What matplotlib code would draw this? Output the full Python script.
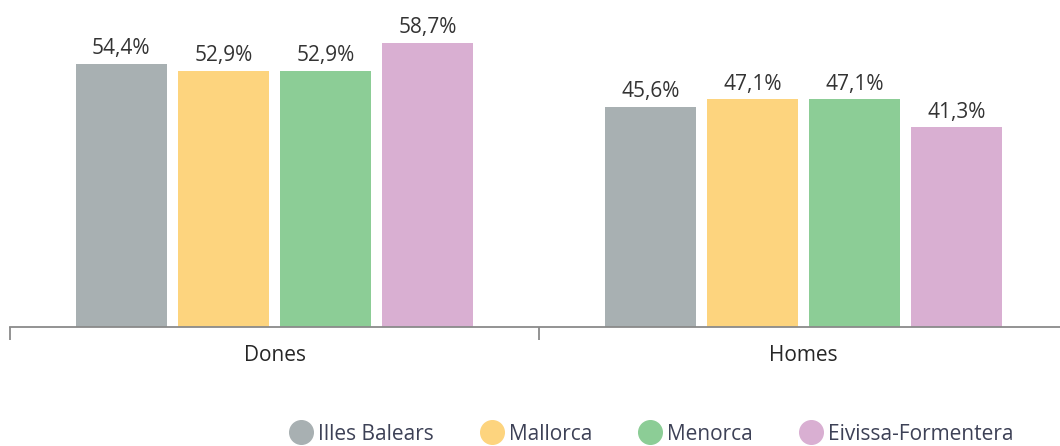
import matplotlib
matplotlib.use("Agg")
import matplotlib.pyplot as plt
from matplotlib.lines import Line2D
import numpy as np

categories = ["Dones", "Homes"]
series = ["Illes Balears", "Mallorca", "Menorca", "Eivissa-Formentera"]
values = {
    "Illes Balears": [54.4, 45.6],
    "Mallorca": [52.9, 47.1],
    "Menorca": [52.9, 47.1],
    "Eivissa-Formentera": [58.7, 41.3],
}
colors = ["#a8b0b2", "#fdd47e", "#8ccd96", "#d9afd2"]

plt.rcParams['font.family'] = ['Open Sans', 'DejaVu Sans']

fig = plt.figure(figsize=(10.6, 4.46), dpi=100)
ax = fig.add_axes([10 / 1060, 119 / 446, 1058 / 1060, 290 / 446])

x = np.arange(len(categories))
width = 0.172
step = 0.193
offsets = (np.arange(len(series)) - 1.5) * step

for i, name in enumerate(series):
    bars = ax.bar(x + offsets[i], values[name], width=width, color=colors[i])
    for b, v in zip(bars, values[name]):
        ax.text(b.get_x() + b.get_width() / 2, v + 1.0, f"{v:.1f}%".replace(".", ","),
                ha="center", va="bottom", fontsize=15, color="#333333")

ax.set_xlim(-0.5, 1.5)
ax.set_ylim(0, 60)
for s in ["top", "right", "left"]:
    ax.spines[s].set_visible(False)
ax.spines["bottom"].set_color("#8a8a8a")
ax.spines["bottom"].set_linewidth(1.3)
ax.set_yticks([])
ax.set_xticks(x)
ax.set_xticklabels(categories, fontsize=15, color="#262626")
ax.tick_params(axis="x", which="major", length=0, pad=13)
ax.set_xticks([-0.5, 0.5, 1.5], minor=True)
ax.tick_params(axis="x", which="minor", length=9, width=1.3, color="#8a8a8a")

handles = [Line2D([], [], marker="o", linestyle="", markersize=17,
                  markerfacecolor=c, markeredgecolor=c) for c in colors]
leg = fig.legend(handles, series, loc="center", bbox_to_anchor=(652 / 1060, 1 - 434 / 446),
                 ncol=4, frameon=False, fontsize=15, handletextpad=0.3,
                 columnspacing=2.3, handlelength=1.0, borderpad=0)
for t in leg.get_texts():
    t.set_color("#3d4156")

fig.savefig("out.png", dpi=100)
